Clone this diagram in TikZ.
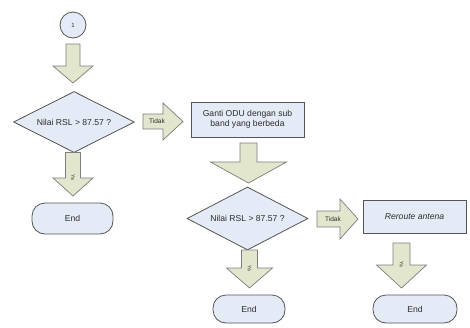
\documentclass[tikz,border=0pt]{standalone}
\usepackage{fontspec}
\setmainfont{Liberation Sans}
\usetikzlibrary{shapes.geometric}
\definecolor{shapefill}{RGB}{228,234,246}
\definecolor{shapeline}{RGB}{85,85,85}
\definecolor{arrfill}{RGB}{226,230,204}
\definecolor{arrline}{RGB}{125,125,125}
\definecolor{txt}{RGB}{45,45,45}
\tikzset{
  base/.style={draw=shapeline, fill=shapefill, line width=0.8pt, text=txt, font=\fontsize{8.6}{10}\selectfont, inner sep=0pt},
  decision/.style={base, diamond, aspect=1.9},
  procbox/.style={base, rectangle, align=center},
  terminal/.style={base, rectangle, rounded corners=13pt},
  conn/.style={base, circle, font=\fontsize{6}{7}\selectfont},
  blockarr/.style={draw=arrline, fill=arrfill, line width=0.7pt, line join=miter},
  arrlabel/.style={text=txt, inner sep=0pt, font=\fontsize{6.5}{7}\selectfont},
  yalabel/.style={text=txt, inner sep=0pt, rotate=-90, font=\fontsize{5}{6}\selectfont}
}
% down arrow: x, ytop, yhead, ytip, shaft half, head half
\newcommand\DArrow[6]{%
  \draw[blockarr] (#1-#5,#2) -- (#1+#5,#2) -- (#1+#5,#3) -- (#1+#6,#3) -- (#1,#4)
    -- (#1-#6,#3) -- (#1-#5,#3) -- cycle;}
% right arrow: y, xleft, xhead, xtip, shaft half, head half
\newcommand\RArrow[6]{%
  \draw[blockarr] (#2,#1-#5) -- (#2,#1+#5) -- (#3,#1+#5) -- (#3,#1+#6) -- (#4,#1)
    -- (#3,#1-#6) -- (#3,#1-#5) -- cycle;}
\begin{document}
\begin{tikzpicture}[x=1pt,y=-1pt]
\useasboundingbox (0,0) rectangle (470,327);

% nodes
\node[conn, minimum size=26pt] (c1) at (73,25) {1};
\node[decision, minimum width=121pt, minimum height=61pt] (d1) at (74,122) {Nilai RSL > 87.57 ?};
\node[terminal, minimum width=81pt, minimum height=31pt] (e1) at (72.5,218.5) {End};
\node[procbox, minimum width=113pt, minimum height=35pt] (b1) at (247.5,119.5) {Ganti ODU dengan sub\\band yang berbeda};
\node[decision, minimum width=121pt, minimum height=63pt] (d2) at (247.5,218.5) {Nilai RSL > 87.57 ?};
\node[procbox, minimum width=103pt, minimum height=33pt, font=\fontsize{8.6}{10}\selectfont\itshape] (b2) at (414.5,216.5) {Reroute antena};
\node[terminal, minimum width=72pt, minimum height=28pt] (e2) at (249,309) {End};
\node[terminal, minimum width=84pt, minimum height=28pt] (e3) at (415,309) {End};

% block arrows (connectors)
\DArrow{73}{44}{66}{83}{7}{20}
\DArrow{73}{152.5}{178}{196}{7.5}{20}
\node[yalabel] (ya1) at (73,177) {Ya};
\RArrow{121.5}{143}{163}{183}{7.5}{18.5}
\node[arrlabel] (t1) at (157,121.5) {Tidak};
\DArrow{248.5}{143}{162}{183}{8.5}{38}
\DArrow{249.5}{250}{268}{288}{8}{23}
\node[yalabel] (ya2) at (249.5,268) {Ya};
\RArrow{219}{317}{340}{358}{8}{20}
\node[arrlabel] (t2) at (333,219) {Tidak};
\DArrow{401.5}{243}{265}{288}{8.5}{25}
\node[yalabel] (ya3) at (401.5,264) {Ya};
\end{tikzpicture}
\end{document}
